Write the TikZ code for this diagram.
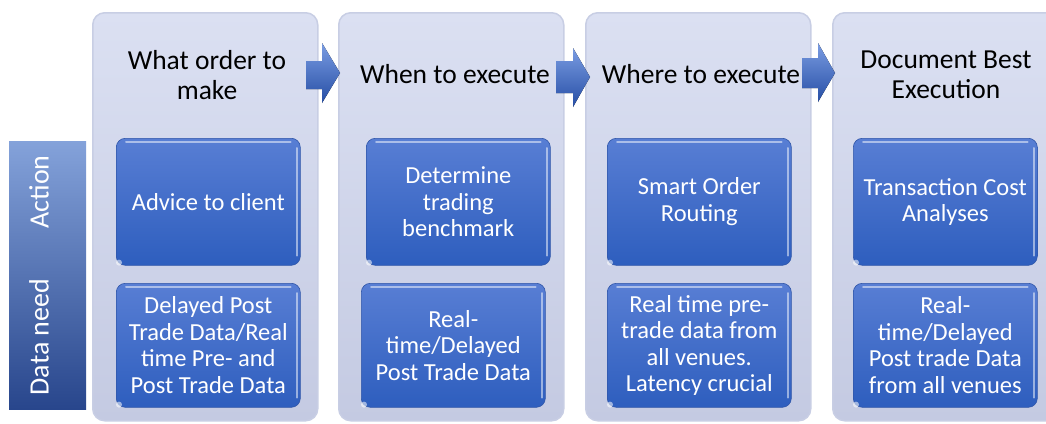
\documentclass[tikz,border=0pt]{standalone}
\usepackage{fontspec}
\setmainfont{Carlito}
\definecolor{panelTop}{RGB}{219,224,242}
\definecolor{panelBot}{RGB}{196,202,226}
\definecolor{panelEdge}{RGB}{200,206,228}
\definecolor{boxTop}{RGB}{88,126,212}
\definecolor{boxBot}{RGB}{46,94,190}
\definecolor{boxEdge}{RGB}{48,86,168}
\definecolor{barTop}{RGB}{132,162,218}
\definecolor{barBot}{RGB}{40,70,140}
\definecolor{arrTop}{RGB}{122,156,226}
\definecolor{arrBot}{RGB}{38,78,165}
\tikzset{
 panel/.style={rounded corners=12pt, top color=panelTop, bottom color=panelBot, draw=panelEdge, line width=1.5pt, minimum width=225pt, minimum height=408pt, anchor=north west, inner sep=0pt},
 blockbox/.style={rounded corners=9pt, top color=boxTop, bottom color=boxBot, draw=boxEdge, line width=0.6pt, minimum width=184pt, anchor=north west, text=white, align=center, font=\fontsize{24.5}{26.5}\selectfont, inner sep=0pt},
 actbox/.style={blockbox, minimum height=127pt},
 databox/.style={blockbox, minimum height=124pt},
 titletext/.style={text=black, align=center, font=\fontsize{27.5}{30}\selectfont, inner sep=0pt},
 sidetext/.style={text=white, font=\fontsize{28}{32}\selectfont, rotate=90, inner sep=0pt},
 blockarrow/.style={top color=arrTop, bottom color=arrBot, draw=none},
 gloss/.style={white, opacity=0.5, line width=2pt, line cap=round},
}
\newcommand{\glossy}[1]{%
  \draw[gloss] ([xshift=10pt,yshift=-3.5pt]#1.north west) -- ([xshift=-10pt,yshift=-3.5pt]#1.north east);
  \draw[gloss] ([xshift=-3.5pt,yshift=-10pt]#1.north east) -- ([xshift=-3.5pt,yshift=10pt]#1.south east);
  \fill[white, opacity=0.55] ([xshift=3pt,yshift=3pt]#1.south west) circle (3pt);
}
\begin{document}
\begin{tikzpicture}[x=1pt,y=-1pt]
\useasboundingbox (0,0) rectangle (1046,423);
\fill[white] (0,0) rectangle (1046,423);
\begin{scope}
\clip (0,0) rectangle (1046,423);
% panels
\node[panel] (p1) at (92,12) {};
\node[panel] (p2) at (338,12) {};
\node[panel] (p3) at (585,12) {};
\node[panel] (p4) at (832,12) {};
% titles
\node[titletext] (t1) at (207,75) {What order to\\make};
\node[titletext] (t2) at (455,74) {When to execute};
\node[titletext] (t3) at (701,74) {Where to execute};
\node[titletext] (t4) at (946,75) {Document Best\\Execution};
% arrows
\fill[blockarrow] (306,61) -- (322,61) -- (322,43) -- (340,73) -- (322,103) -- (322,89) -- (306,89) -- cycle;
\fill[blockarrow] (556,61) -- (573,61) -- (573,48) -- (590,77) -- (573,107) -- (573,93) -- (556,93) -- cycle;
\fill[blockarrow] (802,58) -- (818,58) -- (818,43) -- (835,73) -- (818,102) -- (818,88) -- (802,88) -- cycle;
% action boxes
\node[actbox] (a1) at (116,138) {Advice to client};
\node[actbox] (a2) at (366,138) {Determine\\trading\\benchmark};
\node[actbox] (a3) at (607,138) {Smart Order\\Routing};
\node[actbox] (a4) at (853,138) {Transaction Cost\\Analyses};
% data boxes
\node[databox] (d1) at (116,283) {Delayed Post\\Trade Data/Real\\time Pre- and\\Post Trade Data};
\node[databox] (d2) at (361,283) {Real-\\time/Delayed\\Post Trade Data};
\node[databox] (d3) at (607,283) {Real time pre-\\trade data from\\all venues.\\Latency crucial};
\node[databox] (d4) at (853,283) {Real-\\time/Delayed\\Post trade Data\\from all venues};
\glossy{a1}\glossy{a2}\glossy{a3}\glossy{a4}
\glossy{d1}\glossy{d2}\glossy{d3}\glossy{d4}
% side bar
\node[top color=barTop, bottom color=barBot, draw=none, minimum width=77pt, minimum height=268pt, anchor=north west, inner sep=0pt] (bar) at (9,141) {};
\node[sidetext] (lact) at (39,192) {Action};
\node[sidetext] (ldata) at (39,337) {Data need};
\end{scope}
\end{tikzpicture}
\end{document}
